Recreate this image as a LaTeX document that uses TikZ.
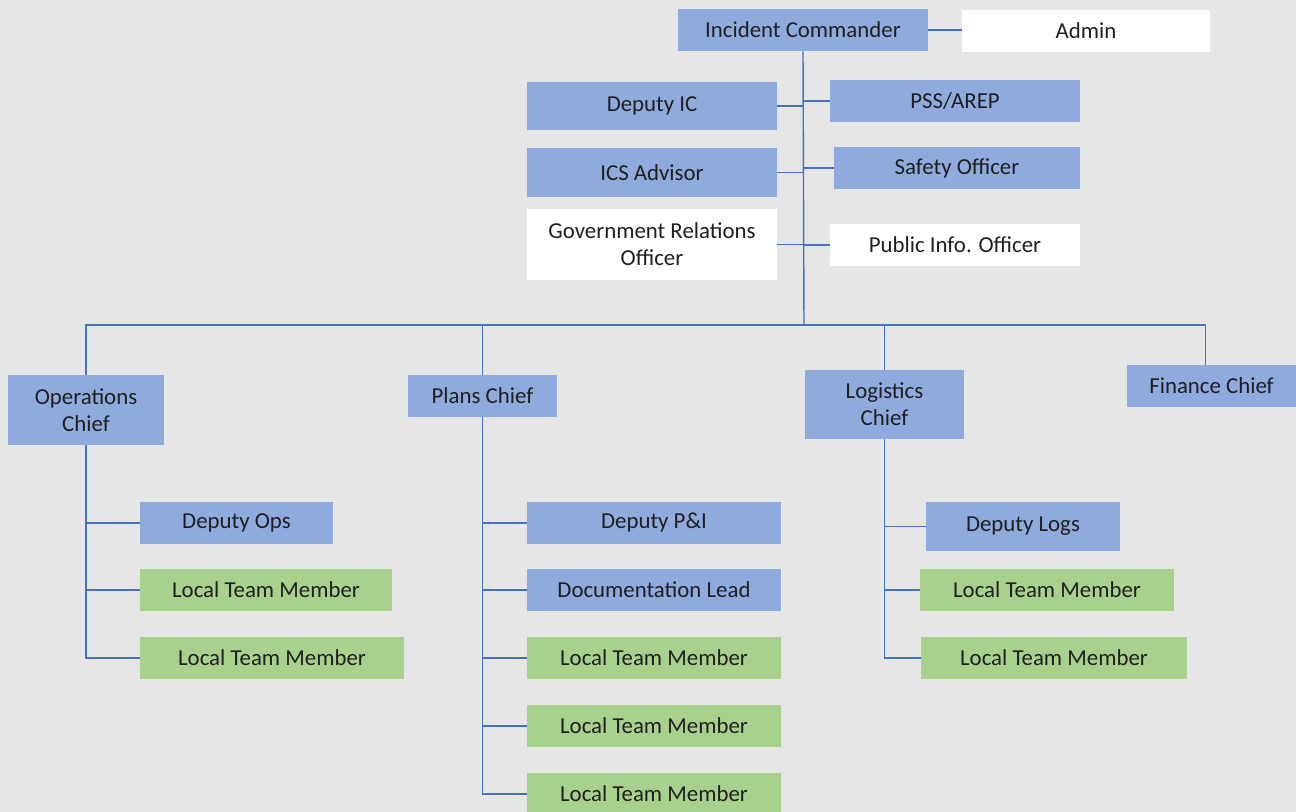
\documentclass[tikz,border=0pt]{standalone}
\usepackage{fontspec}
\setmainfont{Carlito}
\usepackage{xcolor}
\usepackage{tikz}
\usetikzlibrary{positioning,calc}
\definecolor{boxblue}{HTML}{8FAADC}
\definecolor{boxgreen}{HTML}{A9D18E}
\definecolor{linkblue}{HTML}{4472C4}
\definecolor{paper}{HTML}{E6E6E6}
\definecolor{ink}{HTML}{1F1F1F}

\begin{document}
\begin{tikzpicture}[x=0.02cm,y=-0.02cm,
every node/.style = {shape=rectangle,
	inner sep=0pt,
	align=center,
	text=ink,
	font=\fontsize{13}{15.5}\selectfont,
	minimum height=0.84cm
	},
blu/.style = {fill=boxblue},
grn/.style = {fill=boxgreen},
wht/.style = {fill=white},
link/.style = {draw=linkblue, line width=0.8pt}
]
\fill[paper] (0,0) rectangle (1296,812);
\useasboundingbox (0,0) rectangle (1296,812);

\node[blu,minimum width=5cm] (IC) at (803,30) {Incident Commander};
\node[wht,minimum width=4.96cm] (Adm) at (1086,31) {Admin};
\node[blu,minimum width=5cm,minimum height=0.96cm] (DIC) at (652,106) {Deputy IC};
\node[blu,minimum width=5cm] (PSS) at (955,101) {PSS/AREP};
\node[blu,minimum width=5cm,minimum height=0.98cm] (ICSA) at (652,172.5) {ICS Advisor};
\node[blu,minimum width=4.92cm] (Saf) at (957,168) {Safety Officer};
\node[wht,minimum width=5cm,minimum height=1.42cm] (GRO) at (652,244.5)
	{Government Relations\\Officer};
\node[wht,minimum width=5cm] (PIO) at (955,245) {Public Info. Officer};
\coordinate (bus) at (804,325);

\node[blu,minimum width=3.12cm,minimum height=1.4cm] (Ops) at (86,410)
	{Operations\\Chief};
\node[blu,minimum width=2.98cm] (Pln) at (482.5,396) {Plans Chief};
\node[blu,minimum width=3.18cm,minimum height=1.38cm] (Log) at (884.5,404.5)
	{Logistics\\Chief};
\node[blu,minimum width=3.38cm] (Fin) at (1211.5,386) {Finance Chief};

	\node[blu,minimum width=3.86cm] (DOps) at (236.5,523) {Deputy Ops};
	\node[grn,minimum width=5.04cm] (OL1) at (266,590) {Local Team Member};
	\node[grn,minimum width=5.28cm] (OL2) at (272,658) {Local Team Member};

	\node[blu,minimum width=5.08cm] (DPI) at (654,523) {Deputy P\&I};
	\node[blu,minimum width=5.08cm] (Doc) at (654,590) {Documentation Lead};
	\node[grn,minimum width=5.08cm] (PL1) at (654,658) {Local Team Member};
	\node[grn,minimum width=5.08cm] (PL2) at (654,726) {Local Team Member};
	\node[grn,minimum width=5.08cm] (PL3) at (654,794) {Local Team Member};

	\node[blu,minimum width=3.88cm,minimum height=0.98cm] (DLog) at (1023,526.5)
		{Deputy Logs};
	\node[grn,minimum width=5.08cm] (LL1) at (1047,590) {Local Team Member};
	\node[grn,minimum width=5.32cm] (LL2) at (1054,658) {Local Team Member};

\draw[link] (IC.east) -- (Adm.west |- IC.east);
\draw[link] (IC.south) -- (bus);
\draw[link]
(DIC.east) -- (DIC.east -| bus)
(PSS.west) -- (PSS.west -| bus)
(ICSA.east) -- (ICSA.east -| bus)
(Saf.west) -- (Saf.west -| bus)
(GRO.east) -- (GRO.east -| bus)
(PIO.west) -- (PIO.west -| bus);
\draw[link, to path={|- (\tikztotarget)}]
(Ops.north) edge (bus)
(Pln.north) edge (bus)
(Log.north) edge (bus)
([xshift=-0.12cm]Fin.north) edge (bus);
\draw[link, to path={|- (\tikztotarget)}]
(Ops.south) edge (DOps) edge (OL1) edge (OL2)
(Pln.south) edge (DPI) edge (Doc) edge (PL1) edge (PL2) edge (PL3)
(Log.south) edge (DLog) edge (LL1) edge (LL2);
\end{tikzpicture}
\end{document}
